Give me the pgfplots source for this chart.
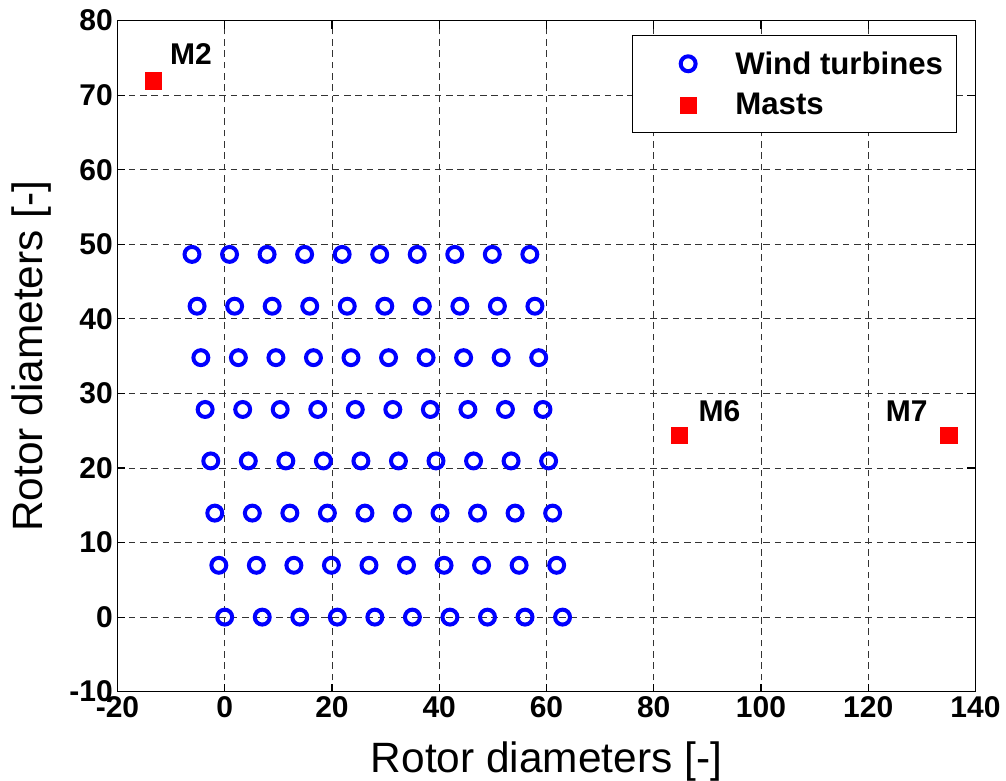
\documentclass[border=0pt]{standalone}
\usepackage{fontspec}
\setmainfont{Liberation Sans}
\usepackage{pgfplots}
\pgfplotsset{compat=1.18}
\definecolor{mblue}{RGB}{0,0,255}
\definecolor{mred}{RGB}{255,0,0}
\begin{document}
\begin{tikzpicture}
\path[use as bounding box] (-88.1pt,-67pt) rectangle (666.4pt,518.75pt);
\begin{axis}[
  at={(0,0)}, anchor=south west,
  scale only axis,
  width=643.5pt, height=503.25pt,
  xmin=-20, xmax=140, ymin=-10, ymax=80,
  xtick={-20,0,20,40,60,80,100,120,140},
  xticklabels={-20,0,20,40,60,80,100,120,140},
  ytick={-10,0,10,20,30,40,50,60,70,80},
  yticklabels={-10,0,10,20,30,40,50,60,70,80},
  tick align=inside,
  major tick length=6pt,
  tick style={black, line width=0.8pt},
  axis line style={black, line width=0.9pt},
  ticklabel style={font=\bfseries\fontsize{22.5}{26}\selectfont},
  grid=major,
  grid style={black!80, line width=0.6pt, dash pattern=on 5pt off 3.5pt},
  xlabel={Rotor diameters [-]},
  ylabel={Rotor diameters [-]},
  xlabel shift=11pt,
  ylabel shift=7pt,
  label style={font=\fontsize{31.8}{36}\selectfont},
  legend cell align=left,
  legend style={at={(rel axis cs:1,1)}, anchor=north east, xshift=-13.9pt, yshift=-10.7pt,
    draw=black, line width=0.8pt, inner xsep=8pt, inner ysep=10pt, row sep=9pt,
    font=\bfseries\fontsize{23.4}{28}\selectfont},
  legend image code/.code={\path (-33pt,0) (33pt,0); \draw[#1] plot coordinates {(0pt,0pt)};},
]
\addplot[only marks, mark=o, mark size=5.6pt, mark options={draw=mblue, line width=3pt}] coordinates {
(0,0) (7,0) (14,0) (21,0) (28,0) (35,0) (42,0) (49,0) (56,0) (63,0)
(-1.1,6.95) (5.9,6.95) (12.9,6.95) (19.9,6.95) (26.9,6.95) (33.9,6.95) (40.9,6.95) (47.9,6.95) (54.9,6.95) (61.9,6.95)
(-1.85,13.95) (5.15,13.95) (12.15,13.95) (19.15,13.95) (26.15,13.95) (33.15,13.95) (40.15,13.95) (47.15,13.95) (54.15,13.95) (61.15,13.95)
(-2.6,20.95) (4.4,20.95) (11.4,20.95) (18.4,20.95) (25.4,20.95) (32.4,20.95) (39.4,20.95) (46.4,20.95) (53.4,20.95) (60.4,20.95)
(-3.65,27.85) (3.35,27.85) (10.35,27.85) (17.35,27.85) (24.35,27.85) (31.35,27.85) (38.35,27.85) (45.35,27.85) (52.35,27.85) (59.35,27.85)
(-4.45,34.8) (2.55,34.8) (9.55,34.8) (16.55,34.8) (23.55,34.8) (30.55,34.8) (37.55,34.8) (44.55,34.8) (51.55,34.8) (58.55,34.8)
(-5.15,41.7) (1.85,41.7) (8.85,41.7) (15.85,41.7) (22.85,41.7) (29.85,41.7) (36.85,41.7) (43.85,41.7) (50.85,41.7) (57.85,41.7)
(-6.1,48.65) (0.9,48.65) (7.9,48.65) (14.9,48.65) (21.9,48.65) (28.9,48.65) (35.9,48.65) (42.9,48.65) (49.9,48.65) (56.9,48.65)
};
\addlegendentry{Wind turbines}
\addplot[only marks, mark=square*, mark size=6.2pt, mark options={draw=mred, fill=mred, line width=0.3pt}] coordinates {
(-13.33,71.94) (84.76,24.42) (135.05,24.42)
};
\addlegendentry{Masts}
\node[font=\bfseries\fontsize{22.5}{26}\selectfont] at (axis cs:-6.3,75.5) {M2};
\node[font=\bfseries\fontsize{22.5}{26}\selectfont] at (axis cs:92.25,27.6) {M6};
\node[font=\bfseries\fontsize{22.5}{26}\selectfont] at (axis cs:127.2,27.6) {M7};
\end{axis}
\end{tikzpicture}
\end{document}
